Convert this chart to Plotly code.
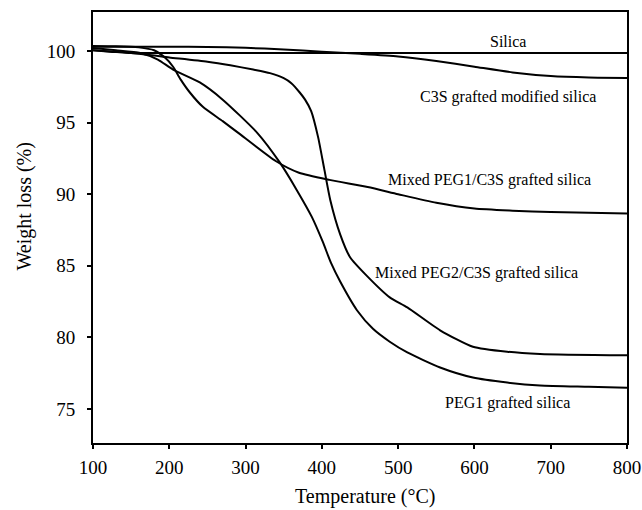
import plotly.graph_objects as go

# Temperature (°C) / weight (%)
silica_T = [100, 130, 160, 200, 300, 400, 500, 600, 700, 800]
silica_W = [100.05, 99.92, 99.86, 99.85, 99.85, 99.85, 99.85, 99.85, 99.85, 99.85]

c3s_T = [100, 150, 200, 250, 300, 350, 400, 450, 500, 550, 600, 650, 700, 750, 800]
c3s_W = [100.3, 100.3, 100.3, 100.28, 100.22, 100.1, 99.95, 99.8, 99.62, 99.3, 98.9, 98.5, 98.25, 98.15, 98.12]

peg1c3s_T = [100, 130, 160, 180, 195, 205, 215, 227, 244, 270, 290, 340, 370, 410, 460, 500, 550, 600, 650, 700, 800]
peg1c3s_W = [100.35, 100.33, 100.25, 100.05, 99.5, 98.9, 98.0, 97.1, 96.1, 95.1, 94.3, 92.3, 91.5, 91.0, 90.5, 90.0, 89.4, 89.0, 88.85, 88.75, 88.65]

peg2c3s_T = [100, 150, 200, 250, 280, 310, 332, 350, 360, 371, 378, 386, 395, 403, 411, 424, 437, 459, 489, 512, 555, 598, 643, 686, 800]
peg2c3s_W = [100.05, 99.85, 99.55, 99.25, 99.0, 98.7, 98.45, 98.1, 97.75, 97.1, 96.6, 95.8, 94.0, 91.8, 89.6, 87.2, 85.6, 84.3, 82.8, 82.1, 80.5, 79.35, 79.0, 78.85, 78.75]

peg1_T = [100, 130, 162, 185, 205, 240, 270, 315, 345, 367, 387, 401, 412, 424, 446, 467, 489, 512, 555, 598, 643, 686, 750, 800]
peg1_W = [100.2, 100.05, 99.86, 99.4, 98.7, 97.8, 96.6, 94.3, 92.2, 90.3, 88.4, 86.7, 85.2, 83.9, 81.9, 80.6, 79.7, 78.95, 77.9, 77.2, 76.85, 76.64, 76.55, 76.48]

labels = ["Silica", "C3S grafted modified silica", "Mixed PEG1/C3S grafted silica",
          "Mixed PEG2/C3S grafted silica", "PEG1 grafted silica"]
label_x = [644, 644, 620, 603, 643]
label_y = [100.63, 96.8, 91.0, 84.5, 75.4]

x_ticks = [100, 200, 300, 400, 500, 600, 700, 800]
y_ticks = [75, 80, 85, 90, 95, 100]
x_title = "Temperature (°C)"
y_title = "Weight loss (%)"

series = [(silica_T, silica_W), (c3s_T, c3s_W), (peg1c3s_T, peg1c3s_W),
          (peg2c3s_T, peg2c3s_W), (peg1_T, peg1_W)]

font = "Liberation Serif, Times New Roman, serif"

fig = go.Figure()
for (t, w), name in zip(series, labels):
    fig.add_trace(go.Scatter(x=t, y=w, mode="lines", name=name,
                             line=dict(color="black", width=2, shape="spline", smoothing=0.6),
                             showlegend=False, hoverinfo="skip"))

for txt, ax, ay in zip(labels, label_x, label_y):
    fig.add_annotation(x=ax, y=ay, text=txt, showarrow=False,
                       font=dict(family=font, size=16, color="black"))

# axis titles as annotations, placed like the reference
fig.add_annotation(xref="paper", yref="paper", x=0.51, y=-0.123, yanchor="middle",
                   text=x_title, showarrow=False,
                   font=dict(family=font, size=20, color="black"))
fig.add_annotation(xref="paper", yref="paper", x=-0.128, y=0.548, xanchor="center",
                   text=y_title, textangle=-90, showarrow=False,
                   font=dict(family=font, size=20, color="black"))

fig.update_layout(
    width=642, height=510,
    margin=dict(l=93, r=15, t=12, b=67),
    paper_bgcolor="white", plot_bgcolor="white",
    font=dict(family=font, color="black"),
)
fig.update_xaxes(range=[100, 800], tickvals=x_ticks, ticks="outside", ticklen=4, tickwidth=1.5,
                 tickcolor="black", showline=True, linecolor="black", linewidth=2, mirror=True,
                 showgrid=False, zeroline=False, automargin=False, ticklabelstandoff=2,
                 tickfont=dict(size=19, family=font, color="black"))
fig.update_yaxes(range=[72.63, 102.72], tickvals=y_ticks, ticks="outside", ticklen=4, tickwidth=1.5,
                 tickcolor="black", showline=True, linecolor="black", linewidth=2, mirror=True,
                 showgrid=False, zeroline=False, automargin=False, ticklabelstandoff=8,
                 tickfont=dict(size=19, family=font, color="black"))

fig.write_html("out.html", config={"displayModeBar": False},
               post_script="document.body.style.margin='0';document.body.style.padding='0';")
